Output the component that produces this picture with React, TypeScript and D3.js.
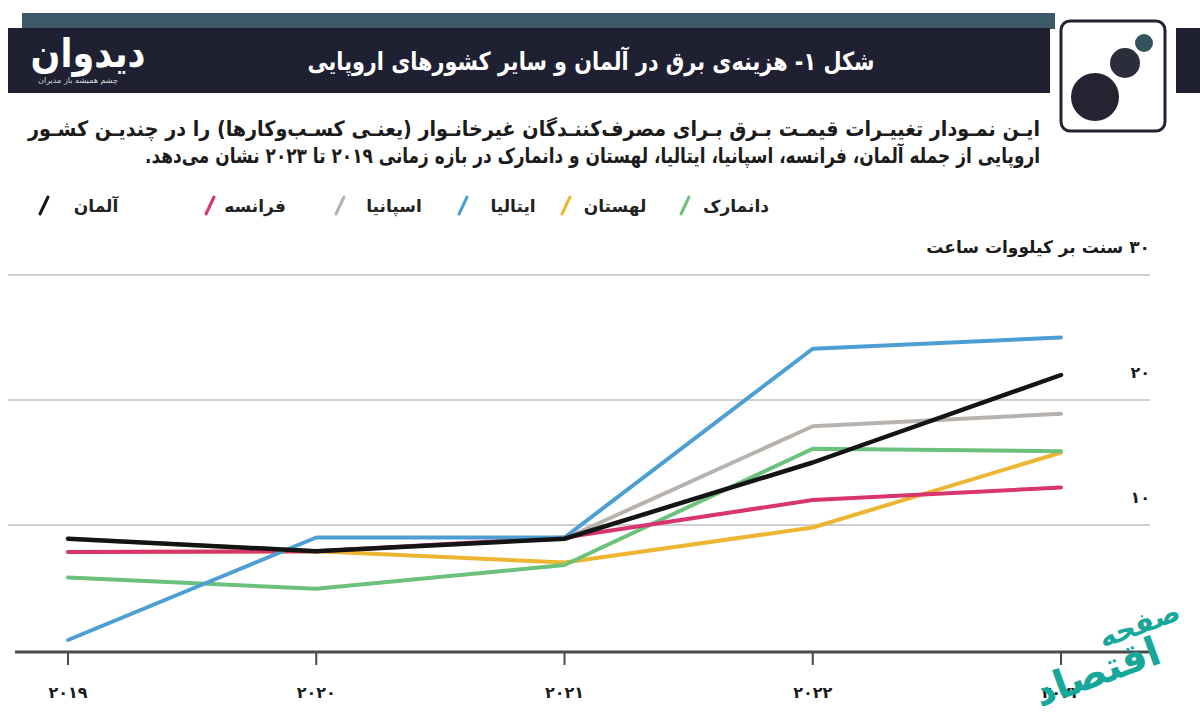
import * as d3 from "d3";

const W = 1200;
const H = 727;

const years = [2019, 2020, 2021, 2022, 2023];
const yearLabels = ["۲۰۱۹", "۲۰۲۰", "۲۰۲۱", "۲۰۲۲", "۲۰۲۳"];

// cents per kWh
const germany = [8.9, 7.9, 8.9, 15.0, 22.0];
const france = [7.85, 7.9, 9.0, 12.0, 13.0];
const spain = [8.9, 7.9, 8.9, 17.9, 18.9];
const italy = [0.8, 9.0, 9.0, 24.1, 25.0];
const poland = [7.85, 7.9, 7.0, 9.8, 15.8];
const denmark = [5.8, 4.9, 6.8, 16.1, 15.9];

const yTicks = [10, 20, 30];
const yTickLabels = ["۱۰", "۲۰", "۳۰ سنت بر کیلووات ساعت"];

const seriesNames = ["آلمان", "فرانسه", "اسپانیا", "ایتالیا", "لهستان", "دانمارک"];
const seriesValues = [germany, france, spain, italy, poland, denmark];
const seriesColors = ["#141414", "#d8356f", "#b7b2ad", "#4d9fd3", "#eeb533", "#6cc17c"];

const titleText = "شکل ۱- هزینه‌ی برق در آلمان و سایر کشورهای اروپایی";
const descLine1 =
  "ایـن نمـودار تغییـرات قیمـت بـرق بـرای مصرف‌کننـدگان غیرخانـوار (یعنـی کسـب‌وکارها) را در چندیـن کشـور";
const descLine2 =
  "اروپایی از جمله آلمان، فرانسه، اسپانیا، ایتالیا، لهستان و دانمارک در بازه زمانی ۲۰۱۹ تا ۲۰۲۳ نشان می‌دهد.";

// legend layout (slash x, text centre x)
const LEGEND_SLASH = [44, 210, 340, 463, 566, 685];
const LEGEND_TEXT = [96, 255, 394, 513, 615, 736];

const FONT = "'DejaVu Sans', 'Noto Sans', sans-serif";

export default function App() {
  const xScale = d3.scaleLinear().domain([2019, 2023]).range([68, 1061]);
  const yScale = d3.scaleLinear().domain([0, 30]).range([650, 275]);

  const line = d3
    .line<number>()
    .x((_, i) => xScale(years[i]))
    .y((d) => yScale(d));

  // draw order: gray first, black last (on top)
  const drawOrder = [2, 4, 5, 1, 3, 0];

  return (
    <svg
      width={W}
      height={H}
      style={{ position: "absolute", left: 0, top: 0, background: "#fff" }}
      fontFamily={FONT}
    >
      <rect width={W} height={H} fill="#fff" />

      {/* header */}
      <rect x={22} y={13} width={1033} height={16} fill="#3b5967" />
      <rect x={8} y={28} width={1042} height={65} fill="#1f2031" />
      <rect x={1176} y={28} width={24} height={65} fill="#1f2031" />
      <text
        x={591}
        y={70}
        fill="#fff"
        fontSize={25}
        fontWeight="bold"
        textAnchor="middle"
        direction="rtl"
        textLength={567}
        lengthAdjust="spacingAndGlyphs"
      >
        {titleText}
      </text>
      <text
        x={88}
        y={67}
        fill="#fff"
        fontSize={40}
        fontWeight="bold"
        textAnchor="middle"
        direction="rtl"
        textLength={115}
        lengthAdjust="spacingAndGlyphs"
      >
        دیدوان
      </text>
      <text
        x={78}
        y={83}
        fill="#d8d8dd"
        fontSize={8}
        textAnchor="middle"
        direction="rtl"
        textLength={80}
        lengthAdjust="spacingAndGlyphs"
      >
        چشم همیشه باز مدیران
      </text>

      {/* logo box */}
      <rect x={1061} y={21} width={104} height={110} rx={9} fill="#fff" stroke="#232331" strokeWidth={3} />
      <circle cx={1095} cy={97} r={24} fill="#232331" />
      <circle cx={1125} cy={63} r={15} fill="#2b2d3b" />
      <circle cx={1144} cy={43} r={9} fill="#33535e" />

      {/* description */}
      <text
        x={1040}
        y={136}
        fill="#1b1b1b"
        fontSize={21}
        fontWeight="bold"
        textAnchor="start"
        direction="rtl"
        textLength={1012}
        lengthAdjust="spacingAndGlyphs"
      >
        {descLine1}
      </text>
      <text
        x={1040}
        y={163}
        fill="#1b1b1b"
        fontSize={21}
        fontWeight="bold"
        textAnchor="start"
        direction="rtl"
        textLength={895}
        lengthAdjust="spacingAndGlyphs"
      >
        {descLine2}
      </text>

      {/* legend */}
      {seriesNames.map((name, i) => (
        <g key={name}>
          <line
            x1={LEGEND_SLASH[i] - 4}
            y1={214}
            x2={LEGEND_SLASH[i] + 4}
            y2={197}
            stroke={seriesColors[i]}
            strokeWidth={3}
            strokeLinecap="round"
          />
          <text
            x={LEGEND_TEXT[i]}
            y={212}
            fontSize={17}
            fontWeight="bold"
            fill="#222"
            textAnchor="middle"
            direction="rtl"
          >
            {name}
          </text>
        </g>
      ))}

      {/* grid */}
      {yTicks.map((t, i) => (
        <g key={t}>
          <line x1={8} x2={1150} y1={yScale(t)} y2={yScale(t)} stroke="#cfcfcf" strokeWidth={2} />
          <text
            x={1150}
            y={yScale(t) - 22}
            fontSize={i === 2 ? 17 : 16}
            fontWeight="bold"
            fill="#1b1b1b"
            textAnchor="start"
            direction="rtl"
          >
            {yTickLabels[i]}
          </text>
        </g>
      ))}
      <text x={1142} y={629} fontSize={16} fontWeight="bold" fill="#1b1b1b" textAnchor="middle">
        ۰
      </text>

      {/* series */}
      {drawOrder.map((si) => (
        <path
          key={seriesNames[si]}
          d={line(seriesValues[si]) as string}
          fill="none"
          stroke={seriesColors[si]}
          strokeWidth={si === 0 ? 4.5 : 4}
          strokeLinejoin="round"
          strokeLinecap="round"
        />
      ))}

      {/* x axis */}
      <line x1={15} x2={1150} y1={652} y2={652} stroke="#4a4a4a" strokeWidth={3} />
      {years.map((yr, i) => (
        <g key={yr}>
          <line x1={xScale(yr)} x2={xScale(yr)} y1={652} y2={665} stroke="#4a4a4a" strokeWidth={2} />
          <text
            x={xScale(yr)}
            y={698}
            fontSize={16}
            fontWeight="bold"
            fill="#1b1b1b"
            textAnchor="middle"
          >
            {yearLabels[i]}
          </text>
        </g>
      ))}

      {/* watermark */}
      <g transform="rotate(-20 1110 655)" fill="#17a89b">
        <text x={1092} y={680} fontSize={40} fontWeight="bold" textAnchor="middle" direction="rtl">
          اقتصاد
        </text>
        <text x={1148} y={646} fontSize={28} fontWeight="bold" textAnchor="middle" direction="rtl">
          صفحه
        </text>
      </g>
    </svg>
  );
}
